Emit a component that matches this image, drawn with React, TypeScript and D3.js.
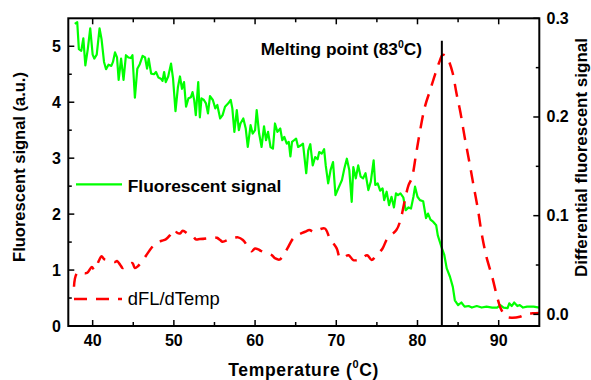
import React from "react";
import * as d3 from "d3";

const W = 591;
const H = 380;

// Fluorescent signal (left axis)
const flTemp = [
  37.8, 38.1, 38.3, 38.6, 38.85, 39.1, 39.4, 39.7, 40.0, 40.2, 40.5, 40.85, 41.1, 41.4, 41.65, 41.95,
  42.3, 42.5, 42.75, 43.0, 43.2, 43.5, 43.8, 44.1, 44.4, 44.7, 44.9, 45.2, 45.5, 45.8, 46.15, 46.45,
  46.7, 46.9, 47.2, 47.55, 47.8, 48.1, 48.4, 48.6, 48.8, 49.0, 49.3, 49.65, 49.9, 50.2, 50.5, 50.75,
  51.0, 51.25, 51.5, 51.8, 52.1, 52.3, 52.5, 52.7, 53.0, 53.2, 53.4, 53.7, 53.95, 54.2, 54.45, 54.8,
  55.1, 55.35, 55.7, 56.0, 56.3, 56.7, 57.0, 57.2, 57.45, 57.75, 58.0, 58.2, 58.55, 58.85, 59.1, 59.45,
  59.7, 60.0, 60.2, 60.5, 60.8, 61.1, 61.35, 61.6, 61.9, 62.2, 62.45, 62.75, 63.1, 63.35, 63.6, 63.9,
  64.15, 64.35, 64.55, 64.8, 65.05, 65.3, 65.65, 65.9, 66.3, 66.55, 66.8, 67.1, 67.4, 67.7, 67.9, 68.2,
  68.5, 68.7, 69.0, 69.3, 69.6, 69.9, 70.25, 70.7, 71.0, 71.3, 71.6, 71.9, 72.1, 72.4, 72.7, 73.0,
  73.3, 73.6, 73.95, 74.25, 74.6, 74.8, 75.1, 75.4, 75.7, 75.9, 76.2, 76.5, 76.8, 77.1, 77.35, 77.6,
  77.9, 78.25, 78.55, 78.9, 79.2, 79.5, 79.7, 80.0, 80.3, 80.7, 81.05, 81.3, 81.6, 81.95, 82.3, 82.5,
  83.0, 83.3, 83.6, 84.0, 84.35, 84.6, 85.0, 85.4, 85.8, 86.3, 86.7, 87.3, 87.9, 88.5, 89.2, 89.8,
  90.2, 90.6, 91.1, 91.3, 91.6, 91.9, 92.3, 92.6, 93.0, 93.5, 94.3, 95.0,
];
const flValue = [
  5.40, 5.43, 4.95, 4.92, 5.14, 4.66, 4.95, 5.32, 4.85, 4.78, 4.85, 5.32, 5.12, 4.72, 4.59, 4.67,
  4.65, 4.72, 4.89, 4.80, 4.40, 4.78, 4.40, 4.84, 4.80, 4.79, 4.84, 4.08, 4.60, 4.68, 4.83, 4.80,
  4.60, 4.78, 4.51, 4.50, 4.54, 4.44, 4.42, 4.38, 4.54, 4.36, 4.46, 4.69, 4.42, 3.84, 4.27, 4.46,
  4.24, 4.36, 3.92, 4.07, 4.09, 4.18, 4.04, 3.77, 4.36, 3.73, 4.07, 4.04, 3.98, 3.80, 4.11, 4.04,
  3.89, 3.95, 3.71, 3.77, 3.92, 3.98, 4.04, 3.89, 3.47, 3.86, 3.50, 3.62, 3.71, 3.53, 3.20, 3.59,
  3.44, 3.50, 3.86, 3.44, 3.20, 3.57, 3.32, 3.47, 3.20, 3.17, 3.62, 3.47, 3.53, 3.32, 3.38, 3.26,
  3.29, 3.03, 3.29, 3.32, 3.35, 3.20, 3.23, 3.26, 2.73, 3.14, 3.25, 2.87, 3.02, 2.98, 3.11, 3.08,
  3.16, 2.87, 2.55, 2.79, 2.93, 2.34, 2.46, 2.61, 2.82, 2.99, 2.79, 2.22, 2.84, 2.64, 2.87, 2.67,
  2.64, 2.73, 2.43, 2.58, 2.96, 2.52, 2.55, 2.42, 2.46, 2.25, 2.40, 2.16, 2.31, 2.12, 2.37, 2.34,
  2.37, 2.30, 2.07, 2.12, 2.10, 2.31, 2.49, 2.31, 2.25, 2.23, 1.93, 2.01, 1.90, 1.86, 1.80, 1.62,
  1.39, 1.27, 1.03, 0.88, 0.70, 0.46, 0.375, 0.42, 0.345, 0.357, 0.33, 0.357, 0.33, 0.345, 0.33, 0.33,
  0.375, 0.33, 0.32, 0.405, 0.357, 0.42, 0.357, 0.375, 0.33, 0.345, 0.345, 0.33,
];

// dFL/dTemp (right axis)
const dTemp = [
  37.7, 38.1, 39.3, 39.9, 40.2, 40.8, 41.1, 41.4, 42.0, 42.75, 43.0, 43.4, 43.7, 44.1, 44.5, 44.9,
  45.2, 45.6, 46.0, 46.45, 46.7, 47.3, 47.9, 48.5, 49.0, 49.5, 50.0, 50.4, 50.75, 51.1, 51.8, 52.4,
  52.7, 53.2, 54.0, 54.9, 55.3, 55.7, 56.0, 56.8, 57.5, 57.9, 58.5, 59.1, 59.6, 60.0, 60.4, 60.7,
  61.4, 62.05, 62.5, 63.0, 63.5, 64.0, 64.7, 65.4, 66.15, 66.7, 67.2, 67.9, 68.6, 69.2, 70.05, 70.45,
  71.0, 71.5, 72.1, 72.6, 73.2, 73.8, 74.35, 74.8, 75.7, 76.3, 77.4, 77.9, 78.4, 78.9, 79.3, 79.8,
  80.25, 80.9, 81.55, 82.2, 82.7, 83.1, 83.6, 83.9, 84.35, 84.8, 85.3, 85.8, 86.35, 86.85, 87.45, 87.9,
  88.5, 89.2, 89.8, 90.3, 90.95, 91.65, 92.6, 93.4, 94.2, 95.0,
];
const dValue = [
  0.028, 0.042, 0.042, 0.048, 0.045, 0.055, 0.059, 0.056, 0.055, 0.053, 0.054, 0.050, 0.047, 0.049, 0.051, 0.052,
  0.047, 0.049, 0.053, 0.058, 0.061, 0.068, 0.073, 0.0746, 0.076, 0.080, 0.086, 0.0827, 0.082, 0.0847, 0.081, 0.0786,
  0.076, 0.0763, 0.077, 0.078, 0.0776, 0.0753, 0.0736, 0.076, 0.0776, 0.078, 0.0753, 0.069, 0.064, 0.0668, 0.0658, 0.0644,
  0.062, 0.060, 0.0567, 0.0555, 0.060, 0.067, 0.077, 0.081, 0.0837, 0.0854, 0.0837, 0.086, 0.087, 0.077, 0.0668, 0.0577,
  0.058, 0.060, 0.055, 0.055, 0.057, 0.060, 0.055, 0.0584, 0.0668, 0.077, 0.0854, 0.0955, 0.114, 0.131, 0.138, 0.161,
  0.183, 0.210, 0.227, 0.244, 0.256, 0.263, 0.261, 0.256, 0.244, 0.224, 0.204, 0.180, 0.156, 0.133, 0.106, 0.082,
  0.058, 0.038, 0.018, 0.005, -0.0024, -0.0034, -0.0024, 0.0003, 0.001, 0.0015,
];

const xMajor = [40, 50, 60, 70, 80, 90];
const xMinor = [45, 55, 65, 75, 85];
const yLeftMajor = [0, 1, 2, 3, 4, 5];
const yLeftMinor = [0.5, 1.5, 2.5, 3.5, 4.5];
const yRightMajor = [0.0, 0.1, 0.2, 0.3];
const yRightMinor = [0.05, 0.15, 0.25];
const meltingPoint = 83;

const M = { left: 68.3, right: 539.3, top: 18.3, bottom: 326 };
const FONT = "'Liberation Sans', Arial, Helvetica, sans-serif";

export default function App() {
  const x = d3.scaleLinear().domain([37, 95]).range([M.left, M.right]);
  const yL = d3.scaleLinear().domain([0, 5.5]).range([M.bottom, M.top]);
  const yR = d3.scaleLinear().domain([-0.0118, 0.3]).range([M.bottom, M.top]);

  const flLine = d3
    .line<number>()
    .x((_, i) => x(flTemp[i]))
    .y((d) => yL(d));
  const dLine = d3
    .line<number>()
    .x((_, i) => x(dTemp[i]))
    .y((d) => yR(d))
    .curve(d3.curveCatmullRom.alpha(0.5));

  const axisStroke = 2;
  const tickFont = 16;

  return (
    <svg
      width={W}
      height={H}
      style={{ position: "absolute", left: 0, top: 0, background: "#fff" }}
      fontFamily={FONT}
    >
      <rect x={0} y={0} width={W} height={H} fill="#fff" />
      {/* data */}
      <path d={flLine(flValue) || ""} fill="none" stroke="#00ff00" strokeWidth={2.2} strokeLinejoin="round" />
      <path
        d={dLine(dValue) || ""}
        fill="none"
        stroke="#ff0000"
        strokeWidth={2.5}
        strokeDasharray="13,9"
      />
      {/* melting point line */}
      <line x1={x(meltingPoint)} x2={x(meltingPoint)} y1={40.7} y2={M.bottom} stroke="#000" strokeWidth={2} />

      {/* frame */}
      <rect
        x={M.left}
        y={M.top}
        width={M.right - M.left}
        height={M.bottom - M.top}
        fill="none"
        stroke="#000"
        strokeWidth={axisStroke}
      />
      {/* x ticks bottom & top */}
      {xMajor.map((t) => (
        <g key={"xM" + t}>
          <line x1={x(t)} x2={x(t)} y1={M.bottom} y2={M.bottom - 6} stroke="#000" strokeWidth={1.5} />
          <line x1={x(t)} x2={x(t)} y1={M.top} y2={M.top + 6} stroke="#000" strokeWidth={1.5} />
          <text x={x(t)} y={346} textAnchor="middle" fontSize={tickFont} fontWeight="bold">
            {t}
          </text>
        </g>
      ))}
      {xMinor.map((t) => (
        <g key={"xm" + t}>
          <line x1={x(t)} x2={x(t)} y1={M.bottom} y2={M.bottom - 4} stroke="#000" strokeWidth={1.5} />
          <line x1={x(t)} x2={x(t)} y1={M.top} y2={M.top + 4} stroke="#000" strokeWidth={1.5} />
        </g>
      ))}
      {/* left ticks */}
      {yLeftMajor.map((t) => (
        <g key={"yl" + t}>
          <line x1={M.left} x2={M.left + 6} y1={yL(t)} y2={yL(t)} stroke="#000" strokeWidth={1.5} />
          <text x={61} y={yL(t) + 5.5} textAnchor="end" fontSize={tickFont} fontWeight="bold">
            {t}
          </text>
        </g>
      ))}
      {yLeftMinor.map((t) => (
        <line key={"ylm" + t} x1={M.left} x2={M.left + 3.5} y1={yL(t)} y2={yL(t)} stroke="#000" strokeWidth={1.5} />
      ))}
      {/* right ticks */}
      {yRightMajor.map((t) => (
        <g key={"yr" + t}>
          <line x1={M.right} x2={M.right - 6} y1={yR(t)} y2={yR(t)} stroke="#000" strokeWidth={1.5} />
          <text x={546.5} y={yR(t) + 5.5} textAnchor="start" fontSize={tickFont} fontWeight="bold">
            {t.toFixed(1)}
          </text>
        </g>
      ))}
      {yRightMinor.map((t) => (
        <line key={"yrm" + t} x1={M.right} x2={M.right - 3.5} y1={yR(t)} y2={yR(t)} stroke="#000" strokeWidth={1.5} />
      ))}

      {/* title */}
      <text x={260.7} y={55} fontSize={17.3} fontWeight="bold">
        Melting point (83
        <tspan fontSize={10.5} dy={-7}>0</tspan>
        <tspan dy={7}>C)</tspan>
      </text>

      {/* legend */}
      <line x1={76} x2={122} y1={184.3} y2={184.3} stroke="#00ff00" strokeWidth={2.2} />
      <text x={127.7} y={191.7} fontSize={17.4} fontWeight="bold">
        Fluorescent signal
      </text>
      <line x1={74} x2={122} y1={299} y2={299} stroke="#ff0000" strokeWidth={2.5} strokeDasharray="13,9" />
      <text x={127.7} y={305} fontSize={18.4}>
        dFL/dTemp
      </text>

      {/* axis labels */}
      <text x={228.3} y={375.5} fontSize={17.5} fontWeight="bold" textLength={150} lengthAdjust="spacing">
        Temperature (
        <tspan fontSize={11} dy={-7.5}>0</tspan>
        <tspan dy={7.5}>C)</tspan>
      </text>
      <text
        transform={`translate(25,167) rotate(-90)`}
        textAnchor="middle"
        fontSize={16.5}
        fontWeight="bold"
      >
        Fluorescent signal (a.u.)
      </text>
      <text
        transform={`translate(587,157.5) rotate(-90)`}
        textAnchor="middle"
        fontSize={17}
        fontWeight="bold"
      >
        Differential fluorescent signal
      </text>
    </svg>
  );
}
